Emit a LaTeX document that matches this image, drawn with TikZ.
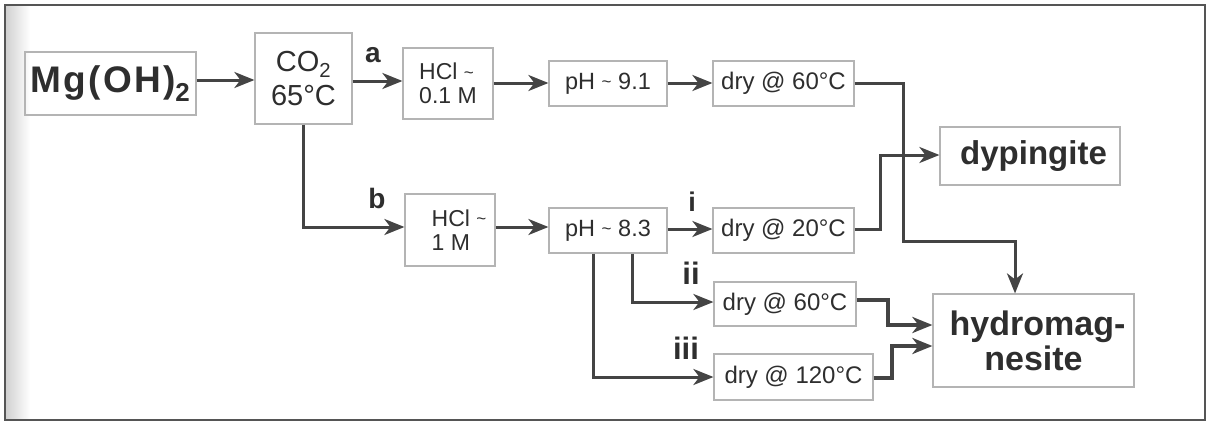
\documentclass[tikz,border=0pt]{standalone}
\usepackage{fontspec}
\setmainfont{Liberation Sans}
\usetikzlibrary{arrows.meta}
\definecolor{arr}{HTML}{444444}
\definecolor{boxc}{HTML}{B4B4B4}
\definecolor{txt}{HTML}{2E2E2E}
\definecolor{frm}{HTML}{555555}
\newcommand\tld{\raisebox{1.5pt}{\fontsize{17}{17}\selectfont\textasciitilde}}
\begin{document}
\begin{tikzpicture}[x=1pt,y=-1pt,
  box/.style={draw=boxc,line width=1.2pt,rectangle,inner sep=0pt,text=txt,align=center},
  conn/.style={draw=arr,line width=3pt,line join=miter,-{Stealth[length=20pt,width=16pt,inset=6pt]}},
  heavy/.style={conn,line width=4.2pt},
  lbl/.style={text=txt,inner sep=0pt,font=\fontsize{28}{28}\selectfont\bfseries},
  lbli/.style={text=txt,inner sep=0pt,font=\fontsize{27}{27}\selectfont\bfseries},
  lblbig/.style={text=txt,inner sep=0pt,font=\fontsize{31}{31}\selectfont\bfseries},
  hcl/.style={box,font=\fontsize{23}{24}\selectfont,align=left},
  small/.style={box,font=\fontsize{23.5}{26}\selectfont},
  dry/.style={box,font=\fontsize{24}{26}\selectfont}
]
\useasboundingbox (0,0) rectangle (1211,423);
\fill[white] (0,0) rectangle (1211,423);
\shade[left color=black!18,right color=white] (6,6) rectangle (30,419);
\draw[frm,line width=2.5pt] (5,5) rectangle (1205,420);

% nodes
\node[box,minimum width=171pt,minimum height=63pt,
      font=\fontsize{37}{40}\selectfont\bfseries\addfontfeature{LetterSpace=6}] (mg) at (110.5,83.5) {Mg(OH)\textsubscript{2}};
\node[box,minimum width=97pt,minimum height=91pt,font=\fontsize{29}{34}\selectfont] (co2) at (303.5,78.5) {CO\textsubscript{2}\\65°C};
\node[hcl,minimum width=90pt,minimum height=71pt] (hcla) at (448,83.5) {HCl \tld\\0.1 M};
\node[hcl,minimum width=90pt,minimum height=72pt] (hclb) at (450,230) {\hspace*{18pt}HCl \tld\\\hspace*{18pt}1 M};
\node[small,minimum width=118pt,minimum height=45pt] (pha) at (608,83.5) {pH \tld\ 9.1};
\node[dry,minimum width=141pt,minimum height=45pt] (dra) at (783.5,83.5) {dry @ 60°C};
\node[small,minimum width=118pt,minimum height=45pt] (phb) at (608,230.5) {pH \tld\ 8.3};
\node[dry,minimum width=141pt,minimum height=45pt] (dri) at (783.5,230.5) {dry @ 20°C};
\node[dry,minimum width=142pt,minimum height=44pt] (drii) at (785,304) {dry @ 60°C};
\node[dry,minimum width=159pt,minimum height=46pt] (driii) at (793.5,377) {dry @ 120°C};
\node[box,minimum width=180pt,minimum height=58pt,font=\fontsize{33}{36}\selectfont\bfseries] (dyp) at (1030,156) {\hspace*{7pt}dypingite};
\node[box,minimum width=201pt,minimum height=93pt,font=\fontsize{34}{35}\selectfont\bfseries] (hyd) at (1033.5,340.5) {\hspace*{8pt}hydromag-\\nesite};

% labels
\node[lbl] (la) at (373,55) {a};
\node[lbl] (lb) at (377,198) {b};
\node[lbli] (li) at (692,202) {i};
\node[lblbig] (lii) at (691,273) {ii};
\node[lblbig] (liii) at (686,348) {iii};

% connectors
\coordinate (ymg) at (0,80);
\coordinate (ya) at (0,81);
\coordinate (yt) at (0,83);
\coordinate (yb) at (0,227);
\coordinate (yi) at (0,229);
\draw[conn] (mg.east |- ymg) -- (co2.west |- ymg);
\draw[conn] (co2.east |- ya) -- (hcla.west |- ya);
\draw[conn] (hcla.east |- yt) -- (pha.west |- yt);
\draw[conn] (pha.east |- yt) -- (dra.west |- yt);
\draw[conn] (co2.south) |- (hclb.west |- yb);
\draw[conn] (hclb.east |- yb) -- (phb.west |- yb);
\draw[conn] (phb.east |- yi) -- (dri.west |- yi);

\coordinate (xii) at (632,0);
\coordinate (xiii) at (593,0);
\draw[conn] (phb.south -| xii) |- (drii.west |- 0,302);
\draw[conn] (phb.south -| xiii) |- (driii.west |- 0,377);

\coordinate (c1) at (903,83);
\coordinate (c2) at (903,241);
\coordinate (c3) at (1015,241);
\draw[conn] (dra.east |- c1) -- (c1) -- (c2) -- (c3) -- (hyd.north -| c3);

\coordinate (d1) at (880,229);
\coordinate (d2) at (880,155);
\draw[conn] (dri.east |- d1) -- (d1) -- (d2) -- (dyp.west |- d2);

\coordinate (e1) at (888,300);
\coordinate (e2) at (888,325);
\draw[heavy] (drii.east |- e1) -- (e1) -- (e2) -- (hyd.west |- e2);

\coordinate (f1) at (892,378);
\coordinate (f2) at (892,346);
\draw[heavy] (driii.east |- f1) -- (f1) -- (f2) -- (hyd.west |- f2);
\end{tikzpicture}
\end{document}
